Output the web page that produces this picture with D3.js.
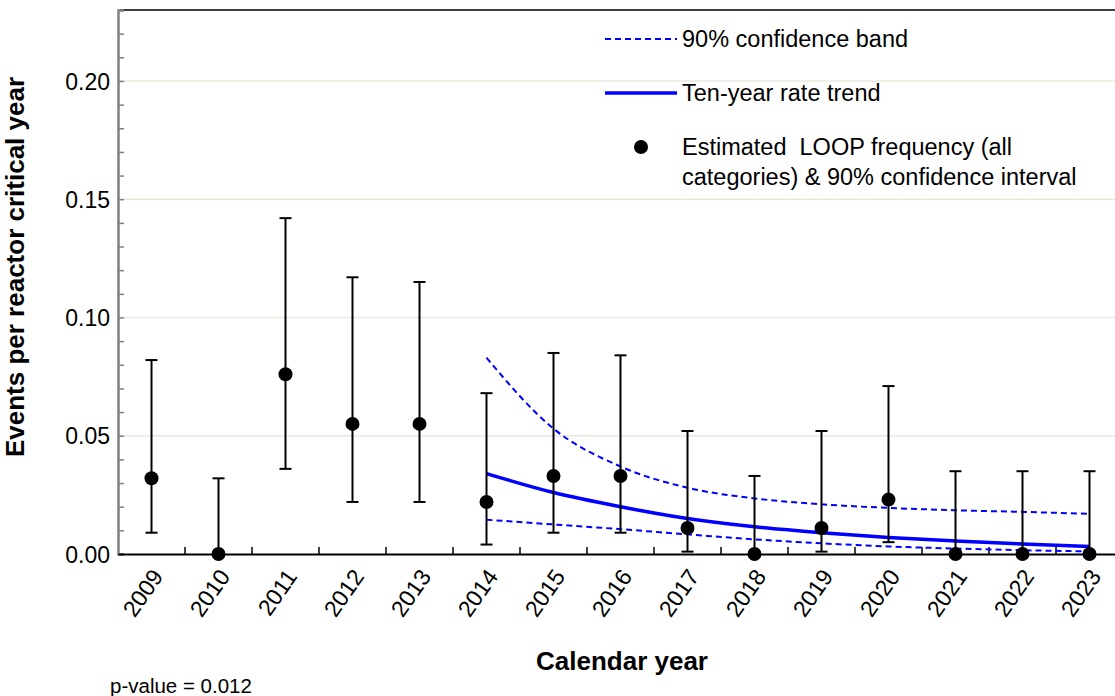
<!DOCTYPE html>
<html><head><meta charset="utf-8">
<script src="https://cdn.jsdelivr.net/npm/d3@7"></script>
<style>body{margin:0;background:#fff;font-family:Arial,"Liberation Sans",sans-serif}</style>
</head><body><div id="chart"></div>
<script>
var years = [2009,2010,2011,2012,2013,2014,2015,2016,2017,2018,2019,2020,2021,2022,2023];
var estimate = [0.032,0,0.076,0.055,0.055,0.022,0.033,0.033,0.011,0,0.011,0.023,0,0,0];
var lower5 = [0.009,0,0.036,0.022,0.022,0.004,0.009,0.009,0.001,0,0.001,0.005,0,0,0];
var upper95 = [0.082,0.032,0.142,0.117,0.115,0.068,0.085,0.084,0.052,0.033,0.052,0.071,0.035,0.035,0.035];
var trendYears = [2014,2015,2016,2017,2018,2019,2020,2021,2022,2023];
var trend = [0.034,0.026,0.020,0.015,0.0115,0.009,0.007,0.0055,0.0042,0.0032];
var bandUpper = [0.083,0.053,0.037,0.028,0.0235,0.021,0.0195,0.0185,0.0178,0.017];
var bandLower = [0.0145,0.0125,0.0105,0.0083,0.0062,0.0045,0.0032,0.0023,0.0016,0.0011];
var yTicks = [0,0.05,0.10,0.15,0.20];

var margin = {top: 10, right: 0, bottom: 142, left: 118},
    width = 1115 - margin.left - margin.right,
    height = 696 - margin.top - margin.bottom;

var svg = d3.select("#chart").append("svg")
    .attr("width", 1115).attr("height", 696)
  .append("g")
    .attr("transform", "translate(" + margin.left + "," + margin.top + ")");

var x = d3.scaleBand().domain(years).range([0, 67 * years.length]);
var cx = function(d) { return x(d) + x.bandwidth() / 2; };
var y = d3.scaleLinear().domain([0, 0.23]).range([height, 0]);

// gridlines
svg.selectAll(".grid").data(yTicks.slice(1)).enter().append("line")
    .attr("x1", 0).attr("x2", width)
    .attr("y1", y).attr("y2", y)
    .style("stroke", "#ebe7dc").style("stroke-width", 1.5);

// top border
svg.append("line").attr("x1", 2).attr("x2", width).attr("y1", 0).attr("y2", 0)
    .style("stroke", "#000").style("stroke-width", 1.5);

// y axis
var yAxis = svg.append("g")
    .call(d3.axisLeft(y).tickValues(d3.range(0, 0.2301, 0.01)).tickSize(-6)
        .tickFormat(function(d) { return yTicks.some(function(t){return Math.abs(t-d)<1e-9;}) ? d3.format(".2f")(d) : ""; }));
yAxis.attr("font-size", null).attr("font-family", null);
yAxis.select(".domain").style("stroke", "#808080").style("stroke-width", 2.5);
yAxis.selectAll(".tick line").style("stroke", "#808080").style("stroke-width", 1.5);
yAxis.selectAll("text").attr("x", -8).attr("dy", "0.35em").style("font-size", "23px").style("fill", "#000");

// x axis
var xAxis = svg.append("g").attr("transform", "translate(0," + height + ")")
    .call(d3.axisBottom(x).tickSize(0).tickPadding(0));
xAxis.attr("font-size", null).attr("font-family", null);
xAxis.select(".domain").style("stroke", "#000").style("stroke-width", 2);
xAxis.selectAll("text")
    .style("font-size", "23px").style("fill", "#000")
    .style("text-anchor", "end")
    .attr("x", 0).attr("y", 0).attr("dy", "0.35em")
    .attr("transform", "translate(6,18) rotate(-55)");
svg.selectAll(".xminor").data(years.slice(1)).enter().append("line")
    .attr("x1", function(d){return x(d);}).attr("x2", function(d){return x(d);})
    .attr("y1", height).attr("y2", height - 7)
    .style("stroke", "#000").style("stroke-width", 1.5);

// axis labels
svg.append("text")
    .attr("transform", "rotate(-90)")
    .attr("x", -height / 2 + 15).attr("y", -94)
    .style("text-anchor", "middle").style("font-weight", "bold").style("font-size", "26px")
    .text("Events per reactor critical year");
svg.append("text")
    .attr("x", 504).attr("y", height + 116)
    .style("text-anchor", "middle").style("font-weight", "bold").style("font-size", "26px")
    .text("Calendar year");
svg.append("text")
    .attr("x", -8).attr("y", height + 139)
    .style("font-size", "20.5px")
    .text("p-value = 0.012");

// band + trend
var line = function(vals) {
    return d3.line().x(function(d, i){ return cx(trendYears[i]); }).y(function(d){ return y(d); })
        .curve(d3.curveMonotoneX)(vals);
};
[bandUpper, bandLower].forEach(function(v) {
    svg.append("path").attr("d", line(v)).style("fill", "none")
        .style("stroke", "#0000ff").style("stroke-width", 2).style("stroke-dasharray", "6,4");
});
svg.append("path").attr("d", line(trend)).style("fill", "none")
    .style("stroke", "#0000ff").style("stroke-width", 3.5);

// error bars
var idx = d3.range(years.length);
svg.selectAll(".err").data(idx).enter().append("line")
    .attr("x1", function(i){return cx(years[i]);}).attr("x2", function(i){return cx(years[i]);})
    .attr("y1", function(i){return y(lower5[i]);}).attr("y2", function(i){return y(upper95[i]);})
    .style("stroke", "#000").style("stroke-width", 2);
[upper95, lower5].forEach(function(arr) {
    svg.selectAll(null).data(idx.filter(function(i){return arr[i] > 0;})).enter().append("line")
        .attr("x1", function(i){return cx(years[i]) - 6;}).attr("x2", function(i){return cx(years[i]) + 6;})
        .attr("y1", function(i){return y(arr[i]);}).attr("y2", function(i){return y(arr[i]);})
        .style("stroke", "#000").style("stroke-width", 2);
});
svg.selectAll(".pt").data(idx).enter().append("circle")
    .attr("cx", function(i){return cx(years[i]);}).attr("cy", function(i){return y(estimate[i]);})
    .attr("r", 7).style("fill", "#000");

// legend
var lg = svg.append("g").attr("transform", "translate(487,0)");
lg.append("line").attr("x1", 0).attr("x2", 72).attr("y1", 29).attr("y2", 29)
    .style("stroke", "#0000ff").style("stroke-width", 2).style("stroke-dasharray", "6,4");
lg.append("line").attr("x1", 0).attr("x2", 72).attr("y1", 83).attr("y2", 83)
    .style("stroke", "#0000ff").style("stroke-width", 3.5);
lg.append("circle").attr("cx", 36).attr("cy", 137).attr("r", 7).style("fill", "#000");
var lt = [["90% confidence band", 37], ["Ten-year rate trend", 91],
          ["Estimated  LOOP frequency (all", 145], ["categories) & 90% confidence interval", 175]];
lg.selectAll(".lt").data(lt).enter().append("text")
    .attr("x", 77).attr("y", function(d){return d[1];})
    .style("font-size", "23.5px").style("white-space", "pre")
    .text(function(d){return d[0];});
</script></body></html>
